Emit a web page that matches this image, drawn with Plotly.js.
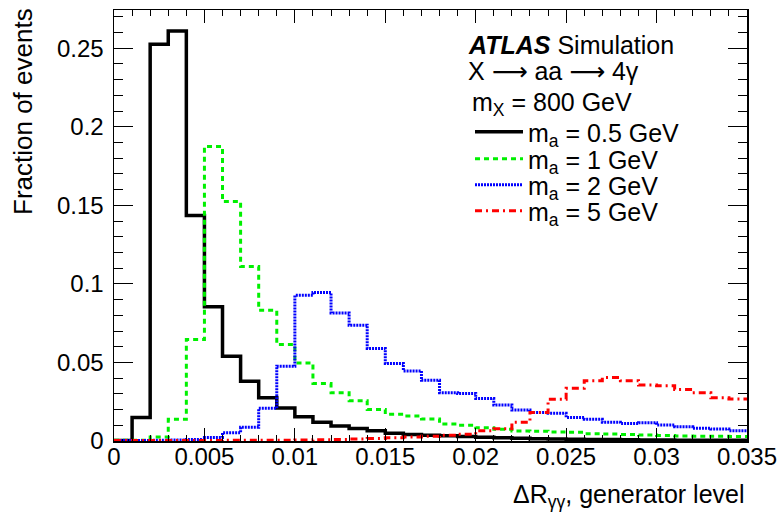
<!DOCTYPE html>
<html>
<head>
<meta charset="utf-8">
<script src="https://cdn.plot.ly/plotly-3.0.1.min.js"></script>
<style>html,body{margin:0;padding:0;background:#fff;}#chart{width:782px;height:512px;}</style>
</head>
<body>
<div id="chart"></div>
<script>
// Bin lower edges (width 0.001) of Delta R_gamma gamma
const binLow = [0, 0.001, 0.002, 0.003, 0.004, 0.005, 0.006, 0.007, 0.008, 0.009,
  0.010, 0.011, 0.012, 0.013, 0.014, 0.015, 0.016, 0.017, 0.018, 0.019,
  0.020, 0.021, 0.022, 0.023, 0.024, 0.025, 0.026, 0.027, 0.028, 0.029,
  0.030, 0.031, 0.032, 0.033, 0.034];
const binHighLast = 0.035;

const ma05 = [0.0003, 0.015, 0.2525, 0.261, 0.1435, 0.0855, 0.054, 0.038, 0.0275, 0.021,
  0.0155, 0.012, 0.0095, 0.008, 0.0065, 0.005, 0.0042, 0.0037, 0.0033, 0.0028,
  0.0024, 0.002, 0.0018, 0.0015, 0.0013, 0.0011, 0.001, 0.0009, 0.0008, 0.0007,
  0.0006, 0.0005, 0.0005, 0.0004, 0.0004];
const ma1 = [0.0004, 0.0004, 0.0025, 0.0138, 0.0646, 0.1875, 0.1524, 0.111, 0.0832, 0.0614,
  0.0497, 0.0366, 0.0307, 0.0256, 0.0201, 0.017, 0.0159, 0.014, 0.0108, 0.01,
  0.0085, 0.0074, 0.0064, 0.0062, 0.0058, 0.0055, 0.0046, 0.0044, 0.0042, 0.0038,
  0.0035, 0.0032, 0.0031, 0.003, 0.0029];
const ma2 = [0.0003, 0.0003, 0.0004, 0.0006, 0.001, 0.0023, 0.0053, 0.0087, 0.0208, 0.0476,
  0.0927, 0.0945, 0.0815, 0.0737, 0.0589, 0.0493, 0.0446, 0.0387, 0.0307, 0.0303,
  0.0271, 0.0229, 0.0197, 0.0182, 0.0176, 0.015, 0.0138, 0.0119, 0.0112, 0.0116,
  0.0102, 0.0091, 0.0081, 0.0076, 0.0065];
const ma5 = [0.0003, 0.0003, 0.0003, 0.0003, 0.0003, 0.0003, 0.0004, 0.0004, 0.0005, 0.0005,
  0.0006, 0.0008, 0.001, 0.0013, 0.0016, 0.002, 0.0025, 0.003, 0.0036, 0.0043,
  0.0065, 0.0078, 0.0119, 0.0182, 0.0265, 0.0335, 0.0383, 0.0404, 0.0383, 0.0356,
  0.0351, 0.0328, 0.0307, 0.0275, 0.0267];

const seriesNames = ['m<sub>a</sub> = 0.5 GeV', 'm<sub>a</sub> = 1 GeV', 'm<sub>a</sub> = 2 GeV', 'm<sub>a</sub> = 5 GeV'];
const seriesData = [ma05, ma1, ma2, ma5];
const seriesColors = ['#000000', '#00f000', '#0000ff', '#ff0000'];
const seriesWidth = [3.5, 3, 3, 3];
const seriesDash = ['solid', '5px,4px', '2px,1px', '7px,4px,2px,4px'];
const legendIds = ['legend', 'legend2', 'legend3', 'legend4'];

const FONT = 'Liberation Sans, Arial, Helvetica, sans-serif';
const xEdges = binLow.concat([binHighLast]);

const traces = seriesData.map((vals, i) => ({
  type: 'scatter',
  mode: 'lines',
  x: xEdges,
  y: vals.concat([vals[vals.length - 1]]),
  name: seriesNames[i],
  legend: legendIds[i],
  line: {shape: 'hv', color: seriesColors[i], width: seriesWidth[i], dash: seriesDash[i]},
  hoverinfo: 'skip'
}));

// plot area in pixels: left 114, right 747, top 10, bottom 441
const L = 114, R = 35, T = 10, B = 71;
const W = 782 - L - R, H = 512 - T - B;
const px = v => (v - L) / W;
const py = v => (512 - B - v) / H;

const legendRowsY = [132, 159, 185, 211];
const legendCommon = {
  xanchor: 'left', yanchor: 'middle', bgcolor: 'rgba(0,0,0,0)', borderwidth: 0,
  font: {family: FONT, size: 25, color: '#000'}, itemwidth: 48
};
const ARROW = '<span style="font-family:DejaVu Sans">⟶</span>';
const layout = {
  width: 782, height: 512,
  margin: {l: L, r: R, t: T, b: B, pad: 0},
  paper_bgcolor: '#fff', plot_bgcolor: '#fff',
  font: {family: FONT, size: 24, color: '#000'},
  showlegend: true,
  xaxis: {
    range: [0, 0.035], dtick: 0.005, tick0: 0,
    ticks: 'inside', ticklen: 13, tickwidth: 1, tickcolor: '#000',
    minor: {ticks: 'inside', ticklen: 6, dtick: 0.001, tickcolor: '#000', tickwidth: 1, showgrid: false},
    showline: true, linecolor: '#000', linewidth: 1.5, mirror: 'allticks',
    showgrid: false, zeroline: false,
    tickfont: {family: FONT, size: 24, color: '#000'},
    ticklabelstandoff: -6
  },
  yaxis: {
    range: [0, 0.2743], dtick: 0.05, tick0: 0,
    ticks: 'inside', ticklen: 19, tickwidth: 1, tickcolor: '#000',
    minor: {ticks: 'inside', ticklen: 9, dtick: 0.01, tickcolor: '#000', tickwidth: 1, showgrid: false},
    showline: true, linecolor: '#000', linewidth: 1.5, mirror: 'allticks',
    showgrid: false, zeroline: false,
    tickfont: {family: FONT, size: 24, color: '#000'},
    ticklabelstandoff: 4
  },
  annotations: [
    {xref: 'paper', yref: 'paper', x: px(23), y: py(112), text: 'Fraction of events', textangle: -90,
     showarrow: false, xanchor: 'center', yanchor: 'middle', font: {family: FONT, size: 26, color: '#000'}},
    {xref: 'paper', yref: 'paper', x: 1.0, y: py(496), text: 'ΔR<sub>γγ</sub>, generator level',
     showarrow: false, xanchor: 'right', yanchor: 'middle', font: {family: FONT, size: 25, color: '#000'}},
    {xref: 'paper', yref: 'paper', x: px(466), y: py(45), text: '<b><i>ATLAS</i></b> Simulation',
     showarrow: false, xanchor: 'left', yanchor: 'middle', font: {family: FONT, size: 25, color: '#000'}},
    {xref: 'paper', yref: 'paper', x: px(466), y: py(72), text: 'X ' + ARROW + ' aa ' + ARROW + ' 4γ',
     showarrow: false, xanchor: 'left', yanchor: 'middle', font: {family: FONT, size: 25, color: '#000'}},
    {xref: 'paper', yref: 'paper', x: px(470), y: py(104), text: 'm<sub>X</sub> = 800 GeV',
     showarrow: false, xanchor: 'left', yanchor: 'middle', font: {family: FONT, size: 25, color: '#000'}}
  ]
};
legendIds.forEach((id, i) => {
  layout[id] = Object.assign({}, legendCommon, {x: px(470), y: py(legendRowsY[i])});
});

Plotly.newPlot('chart', traces, layout, {staticPlot: true, displayModeBar: false});
</script>
</body>
</html>
